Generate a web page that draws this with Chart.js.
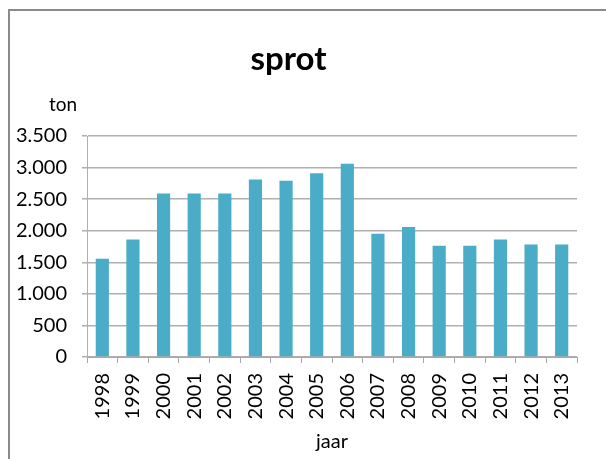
<!DOCTYPE html>
<html>
<head>
<meta charset="utf-8">
<script src="https://cdn.jsdelivr.net/npm/chart.js@4"></script>
<style>
  html, body { margin: 0; padding: 0; background: #fff; }
  #wrap { width: 606px; height: 459px; }
</style>
</head>
<body>
<div id="wrap"><canvas id="sprotChart" width="606" height="459"></canvas></div>
<script>
// ===== Data =====
const years = ["1998","1999","2000","2001","2002","2003","2004","2005","2006","2007","2008","2009","2010","2011","2012","2013"];
const tonnes = [1555, 1860, 2590, 2590, 2590, 2810, 2790, 2910, 3060, 1950, 2060, 1760, 1760, 1860, 1780, 1780];
const yTicks = [0, 500, 1000, 1500, 2000, 2500, 3000, 3500];

const font = "Lato, 'Open Sans', sans-serif";

// dutch thousand separator: 3500 -> 3.500
function fmt(v) {
  return String(v).replace(/\B(?=(\d{3})+(?!\d))/g, ".");
}

// frame round the chart and the "ton" label above the y axis
const extras = {
  id: "extras",
  beforeDraw(chart) {
    const ctx = chart.ctx;
    ctx.save();
    ctx.fillStyle = "#fff";
    ctx.fillRect(0, 0, chart.width, chart.height);
    ctx.strokeStyle = "#8a8a8a";
    ctx.lineWidth = 2;
    ctx.beginPath();
    ctx.moveTo(9, chart.height);
    ctx.lineTo(9, 10);
    ctx.lineTo(chart.width, 10);
    ctx.stroke();
    ctx.restore();
  },
  afterDraw(chart) {
    const ctx = chart.ctx;
    ctx.save();
    ctx.font = "19px " + font;
    ctx.fillStyle = "#000";
    ctx.textAlign = "left";
    ctx.textBaseline = "middle";
    ctx.fillText("ton", 49, 105);
    ctx.restore();
  }
};

new Chart(document.getElementById("sprotChart"), {
  type: "bar",
  data: {
    labels: years,
    datasets: [{
      label: "sprot",
      data: tonnes,
      backgroundColor: "#4aacc6",
      borderWidth: 0,
      categoryPercentage: 1,
      barPercentage: 0.43
    }]
  },
  plugins: [extras],
  options: {
    responsive: false,
    animation: false,
    layout: { padding: { left: 0, right: 29, top: 0, bottom: 0 } },
    plugins: {
      legend: { display: false },
      tooltip: { enabled: false },
      title: {
        display: true,
        text: "sprot",
        color: "#000",
        font: { family: font, size: 33, weight: "bold", lineHeight: 1.2 },
        padding: { top: 40, bottom: 56.4 }
      }
    },
    scales: {
      x: {
        grid: {
          display: true,
          drawOnChartArea: false,
          drawTicks: true,
          tickLength: 6,
          color: "#a6a6a6",
          offset: true
        },
        border: { display: true, color: "#a6a6a6", width: 1 },
        ticks: {
          color: "#000",
          font: { family: font, size: 20 },
          maxRotation: 90,
          minRotation: 90,
          padding: 10,
          autoSkip: false
        },
        title: {
          display: true,
          text: "jaar",
          color: "#000",
          font: { family: font, size: 20 },
          padding: { top: 0, bottom: 5 }
        },
        afterFit(scale) { scale.height = 102; }
      },
      y: {
        min: 0,
        max: 3500,
        afterBuildTicks(scale) {
          scale.ticks = yTicks.map(v => ({ value: v }));
        },
        grid: {
          color: "#b0b0b0",
          lineWidth: 1.5,
          drawTicks: true,
          tickLength: 5
        },
        border: { display: true, color: "#b0b0b0", width: 1 },
        ticks: {
          color: "#000",
          font: { family: font, size: 20 },
          padding: 15,
          callback: v => fmt(v)
        },
        afterFit(scale) { scale.width = 87; }
      }
    }
  }
});
</script>
</body>
</html>
